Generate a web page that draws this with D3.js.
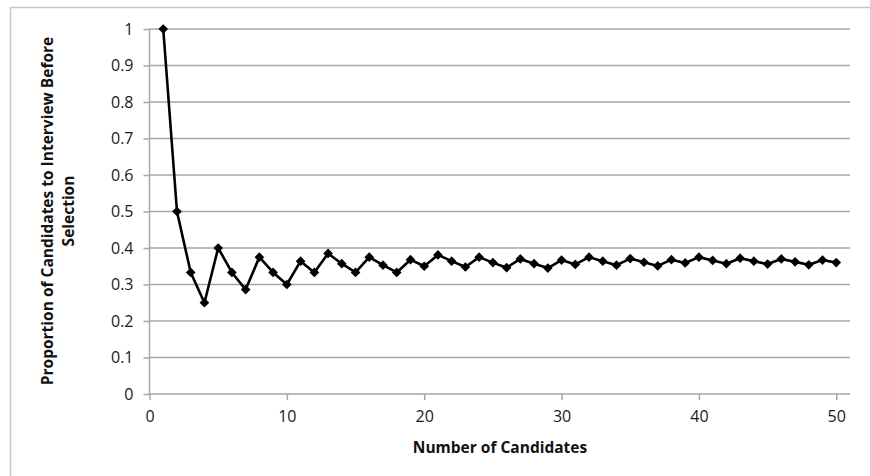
<!DOCTYPE html>
<html><head><meta charset="utf-8">
<script src="https://cdn.jsdelivr.net/npm/d3@7"></script>
<style>body{margin:0;background:#fff;}svg{display:block;}
.tk text{font-family:'Open Sans',Lato,sans-serif;font-size:16px;fill:#1a1a1a;}</style>
</head><body>
<svg id="c" width="870" height="476"></svg>
<script>
const candidates = d3.range(1, 51);
const proportions = [1.000,0.500,0.333,0.250,0.400,0.333,0.286,0.375,0.333,0.300,
0.364,0.333,0.385,0.357,0.333,0.375,0.353,0.333,0.368,0.350,
0.381,0.364,0.348,0.375,0.360,0.346,0.370,0.357,0.345,0.367,
0.355,0.375,0.364,0.353,0.371,0.361,0.351,0.368,0.359,0.375,
0.366,0.357,0.372,0.364,0.356,0.370,0.362,0.354,0.367,0.360];
const xTicks = [0,10,20,30,40,50];
const yTicks = [0,0.1,0.2,0.3,0.4,0.5,0.6,0.7,0.8,0.9,1];
const xTitle = "Number of Candidates";
const yTitle = ["Proportion of Candidates to Interview Before","Selection"];

const svg = d3.select("#c");
const font = "'Open Sans', Lato, sans-serif";
svg.append("rect").attr("x",10.5).attr("y",7.5).attr("width",880).attr("height",500)
  .attr("fill","none").attr("stroke","#c8c8c8").attr("stroke-width",1.5);

const x = d3.scaleLinear().domain([0,51]).range([149.5,850]);
const y = d3.scaleLinear().domain([0,1]).range([394,29]);

// gridlines
svg.append("g").selectAll("line").data(yTicks.filter(d=>d>0)).join("line")
  .attr("x1",x(0)).attr("x2",850).attr("y1",d=>y(d)).attr("y2",d=>y(d))
  .attr("stroke","#a6a6a6").attr("stroke-width",1.5);

const yAxis = svg.append("g").attr("class","tk").attr("transform",`translate(${x(0)},0)`)
  .call(d3.axisLeft(y).tickValues(yTicks).tickFormat(d3.format("")).tickSize(6).tickPadding(10));
const xAxis = svg.append("g").attr("class","tk").attr("transform",`translate(0,${y(0)})`)
  .call(d3.axisBottom(x).tickValues(xTicks).tickSize(6).tickPadding(11));
[yAxis,xAxis].forEach(g=>{
  g.attr("font-size",null).attr("font-family",null);
  g.select(".domain").attr("stroke","#a6a6a6").attr("stroke-width",1.5);
  g.selectAll(".tick line").attr("stroke","#a6a6a6").attr("stroke-width",1.5);
  g.selectAll(".tick text").attr("font-size",16).attr("font-family",font).attr("fill","#1a1a1a");
});
xAxis.select(".domain").attr("d",`M${x(0)},0H850`);
yAxis.select(".domain").attr("d",`M0,${y(0)}V${y(1)}`);

const pts = candidates.map((c,i)=>[c,proportions[i]]);
svg.append("path").datum(pts).attr("fill","none").attr("stroke","#000").attr("stroke-width",2.6)
  .attr("stroke-linejoin","round")
  .attr("d",d3.line().x(d=>x(d[0])).y(d=>y(d[1])));
svg.append("g").selectAll("path").data(pts).join("path")
  .attr("transform",d=>`translate(${x(d[0])},${y(d[1])})`)
  .attr("d",d3.symbol(d3.symbolDiamond2,60)).attr("fill","#000");

svg.append("text").attr("x",500).attr("y",453).attr("text-anchor","middle")
  .style("font-family",font).style("font-weight","bold").style("font-size","15.5px").attr("fill","#111").text(xTitle);
const yt = svg.append("text").attr("transform","translate(0,211) rotate(-90)").attr("text-anchor","middle")
  .style("font-family",font).style("font-weight","bold").style("font-size","15.5px").attr("fill","#111");
yt.selectAll("tspan").data(yTitle).join("tspan").attr("x",0).attr("y",(d,i)=>53+i*21).text(d=>d);
</script>
</body></html>
